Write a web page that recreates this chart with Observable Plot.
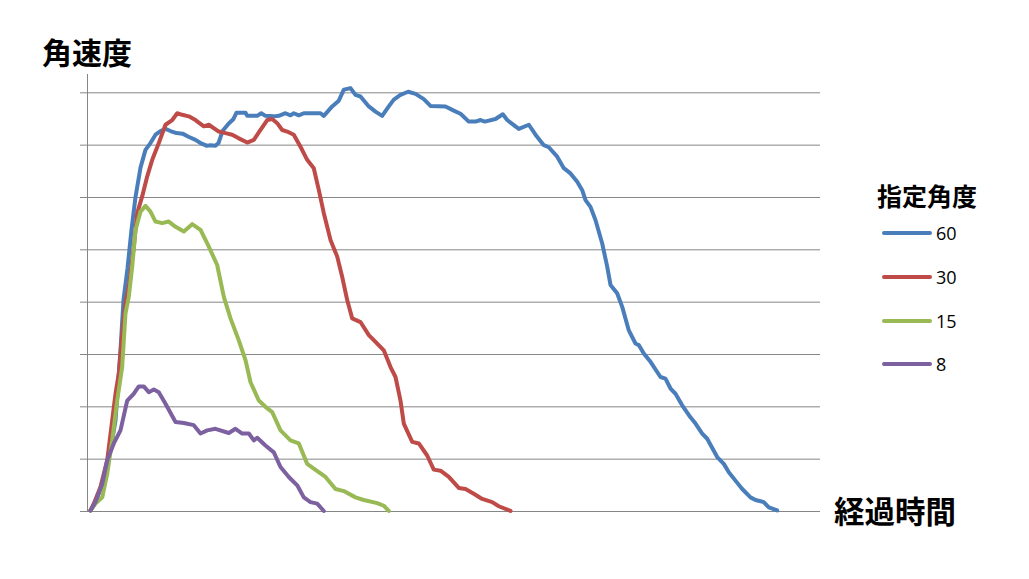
<!DOCTYPE html>
<html>
<head>
<meta charset="utf-8">
<script src="https://cdn.jsdelivr.net/npm/d3@7"></script>
<script src="https://cdn.jsdelivr.net/npm/@observablehq/plot@0.6"></script>
<style>
  html, body { margin: 0; padding: 0; background: #fff; }
  #wrap { position: relative; width: 1029px; height: 579px; overflow: hidden; }
  .cjk { position: absolute; font-family: "Noto Sans CJK JP", sans-serif; font-weight: bold; color: #000; white-space: nowrap; line-height: 1; }
  .leg { position: absolute; display: flex; align-items: center; font-family: "Open Sans", "Liberation Sans", sans-serif; font-size: 18px; color: #000; line-height: 1; }
  .leg .sw { width: 50px; height: 4px; border-radius: 2px; margin-right: 4px; }
</style>
</head>
<body>
<div id="wrap"></div>
<script>
// Series names (指定角度)
const seriesNames = ["60", "30", "15", "8"];
const seriesColors = ["#4A7EBB", "#BE4B48", "#98B954", "#7D60A0"];

// 経過時間 (arbitrary units) and 角速度 (arbitrary units) per series
const t60 = [0.41,1.09,1.77,2.46,3.14,3.82,4.50,4.91,5.46,6.00,6.55,7.23,7.91,8.59,9.28,9.96,10.64,11.32,12.14,12.96,13.78,14.73,15.42,16.23,16.78,17.46,17.87,18.42,19.24,19.92,20.33,21.56,21.79,23.15,23.70,24.28,25.42,26.10,27.01,27.69,28.14,28.83,29.51,31.79,32.24,33.38,34.28,34.97,35.88,36.56,37.24,38.38,39.29,40.20,41.10,41.79,42.70,43.75,44.75,45.88,46.79,48.84,49.97,50.89,52.02,52.93,53.62,54.20,55.66,56.66,57.26,58.84,60.21,61.12,62.25,62.93,64.08,64.98,65.89,66.81,67.49,67.94,68.62,69.30,70.22,70.90,71.35,72.26,72.95,73.85,74.76,75.21,75.89,76.81,78.17,78.85,79.54,80.22,81.13,82.26,82.95,83.86,84.54,85.91,86.81,87.49,88.40,89.32,90.45,91.13,92.26,92.95,94.09];
const v60 = [0.02,0.17,0.44,0.78,1.17,1.74,3.08,4.04,4.65,5.38,6.01,6.57,6.91,7.04,7.20,7.27,7.31,7.27,7.23,7.22,7.16,7.10,7.04,6.99,7.00,6.99,7.04,7.27,7.41,7.50,7.62,7.62,7.56,7.56,7.61,7.56,7.55,7.56,7.61,7.57,7.61,7.57,7.61,7.61,7.56,7.74,7.85,8.06,8.09,7.96,7.93,7.74,7.64,7.56,7.74,7.87,7.96,8.02,7.98,7.88,7.75,7.74,7.66,7.60,7.45,7.45,7.48,7.45,7.50,7.59,7.48,7.31,7.39,7.20,7.00,6.96,6.78,6.56,6.46,6.30,6.14,5.95,5.82,5.57,5.12,4.68,4.33,4.17,3.91,3.46,3.21,3.18,3.02,2.86,2.57,2.54,2.35,2.25,2.03,1.80,1.68,1.49,1.39,1.04,0.91,0.75,0.59,0.43,0.27,0.22,0.18,0.08,0.02];

const t30 = [0.41,0.86,1.77,2.69,3.37,3.82,4.27,4.73,5.18,5.63,6.32,6.78,7.46,8.14,8.83,9.73,10.64,11.56,12.24,12.92,13.82,14.73,15.87,16.55,17.91,18.83,19.74,20.64,21.79,22.69,23.60,24.52,25.20,25.88,26.56,27.24,28.14,29.06,29.97,30.87,31.56,32.24,33.15,34.07,34.75,35.43,36.11,37.24,38.38,39.29,40.42,41.34,42.02,42.70,43.15,44.30,45.20,46.34,47.24,48.16,49.29,50.65,51.57,52.70,53.85,55.21,56.11,57.71];
const v30 = [0.02,0.15,0.47,0.98,1.74,2.25,2.64,3.40,3.98,4.29,5.06,5.70,6.02,6.40,6.72,7.04,7.39,7.48,7.61,7.58,7.55,7.48,7.36,7.39,7.26,7.23,7.20,7.13,7.05,7.10,7.29,7.48,7.50,7.42,7.29,7.26,7.20,6.97,6.72,6.56,6.14,5.70,5.19,4.87,4.48,4.04,3.69,3.62,3.37,3.24,3.08,2.76,2.57,2.12,1.68,1.33,1.30,1.07,0.80,0.78,0.66,0.45,0.43,0.34,0.24,0.18,0.10,0.01];

const t15 = [0.41,1.09,2.01,2.69,3.37,4.05,4.73,5.18,5.63,6.10,6.55,7.23,7.91,8.59,9.28,10.19,11.09,12.01,13.14,14.28,15.42,16.55,17.69,18.60,19.51,20.64,21.56,22.24,23.37,24.28,25.20,26.33,27.69,28.83,29.97,30.87,32.47,33.83,34.97,36.56,37.69,39.52,40.42,41.10];
const v15 = [0.02,0.15,0.27,0.72,1.36,2.12,2.76,3.78,4.10,4.68,5.38,5.73,5.84,5.73,5.54,5.51,5.54,5.44,5.35,5.49,5.38,5.06,4.71,4.10,3.69,3.27,2.89,2.47,2.12,2.00,1.90,1.55,1.36,1.30,0.91,0.82,0.66,0.43,0.39,0.27,0.22,0.16,0.11,0.01];

const t8 = [0.41,1.09,2.01,2.69,3.59,4.50,5.42,6.32,7.00,7.68,8.36,9.05,9.73,10.64,12.01,13.14,14.50,15.42,16.33,17.46,19.28,20.19,21.11,22.01,22.69,23.15,24.28,25.42,26.33,27.46,28.61,29.51,30.42,31.34,32.24];
const v8 = [0.02,0.18,0.53,0.98,1.30,1.55,2.12,2.25,2.39,2.39,2.28,2.33,2.28,2.06,1.71,1.69,1.65,1.49,1.55,1.58,1.50,1.58,1.49,1.49,1.36,1.41,1.26,1.13,0.85,0.66,0.50,0.27,0.18,0.15,0.01];

const gridValues = [0, 1, 2, 3, 4, 5, 6, 7, 8];

const seriesT = [t60, t30, t15, t8];
const seriesV = [v60, v30, v15, v8];
const data = seriesNames.flatMap((name, i) =>
  seriesT[i].map((t, j) => ({ series: name, t, v: seriesV[i][j] }))
);

const chart = Plot.plot({
  width: 1029,
  height: 579,
  marginLeft: 87,
  marginRight: 209,
  marginTop: 74,
  marginBottom: 68,
  x: { domain: [0, 100], axis: null },
  y: { domain: [0, 8.35], axis: null },
  color: { domain: seriesNames, range: seriesColors },
  marks: [
    Plot.ruleY(gridValues, { stroke: "#868686", strokeWidth: 1, strokeOpacity: 1 }),
    Plot.axisY(gridValues, { tickSize: 7, tickFormat: () => "", stroke: "#868686", strokeOpacity: 1, label: null }),
    Plot.ruleX([0], { y1: 0, y2: 8.35, stroke: "#868686", strokeWidth: 1 }),
    Plot.line(data, {
      x: "t", y: "v", z: "series", stroke: "series",
      strokeWidth: 4, strokeLinejoin: "round", strokeLinecap: "round"
    })
  ]
});

const wrap = document.getElementById("wrap");
wrap.appendChild(chart);

function addText(cls, text, left, top, size) {
  const d = document.createElement("div");
  d.className = cls;
  d.textContent = text;
  d.style.left = left + "px";
  d.style.top = top + "px";
  d.style.fontSize = size + "px";
  wrap.appendChild(d);
  return d;
}
addText("cjk", "角速度", 42, 36, 30);
addText("cjk", "経過時間", 834, 495, 30.5);
addText("cjk", "指定角度", 877, 183, 25);

const legTops = [233, 277, 321, 364];
seriesNames.forEach((name, i) => {
  const row = document.createElement("div");
  row.className = "leg";
  row.style.left = "882px";
  row.style.top = (legTops[i] - 9) + "px";
  row.style.height = "18px";
  const sw = document.createElement("div");
  sw.className = "sw";
  sw.style.background = seriesColors[i];
  const lab = document.createElement("span");
  lab.textContent = name;
  row.appendChild(sw);
  row.appendChild(lab);
  wrap.appendChild(row);
});
</script>
</body>
</html>
